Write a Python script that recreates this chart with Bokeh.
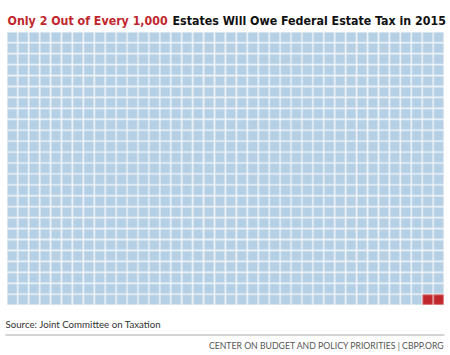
from bokeh.plotting import figure
from bokeh.models import ColumnDataSource, Range1d, Label, BoxAnnotation
from bokeh.embed import file_html
from bokeh.resources import INLINE

# ---- data ----
categories = ["Will not owe federal estate tax", "Will owe federal estate tax"]
counts = [998, 2]
colors = ["#b5cfe4", "#c0272d"]
edge_colors = ["#d6e4ef", "#d9777a"]
n_cols = 40
n_rows = 25

title_red = "Only 2 Out of Every 1,000"
title_black = "Estates Will Owe Federal Estate Tax in 2015"
source_note = "Source: Joint Committee on Taxation"
footer = "CENTER ON BUDGET AND POLICY PRIORITIES | CBPP.ORG"

# ---- build waffle cells from counts ----
xs, ys, fills, lines, cats = [], [], [], [], []
i = 0
for cat, n, c, ec in zip(categories, counts, colors, edge_colors):
    for _ in range(n):
        xs.append(i % n_cols)
        ys.append(i // n_cols)
        fills.append(c)
        lines.append(ec)
        cats.append(cat)
        i += 1
src = ColumnDataSource(dict(x=xs, y=ys, fill=fills, line=lines, cat=cats))

W, H = 450, 355
pitch = 10.93       # px per cell
left_px = 7.0
top_px = 32.0
sq = 9.6 / pitch

x0 = -(left_px + sq * pitch / 2) / pitch
y0 = -(top_px + sq * pitch / 2) / pitch

p = figure(width=W, height=H, output_backend="svg", toolbar_location=None,
           x_range=Range1d(x0, x0 + W / pitch),
           y_range=Range1d(y0 + H / pitch, y0),
           min_border=0, min_border_left=0, min_border_right=0,
           min_border_top=0, min_border_bottom=0)
p.axis.visible = False
p.grid.visible = False
p.outline_line_color = None
p.background_fill_color = "white"
p.border_fill_color = "white"

p.rect(x="x", y="y", width=sq, height=sq, source=src,
       fill_color="fill", line_color="line", line_width=1)

TF = "'DejaVu Sans Condensed', 'DejaVu Sans', sans-serif"
# title (two colours)
p.add_layout(Label(x=7, y=H - 20, x_units="screen", y_units="screen",
                   text=title_red, text_font=TF,
                   text_font_style="bold", text_font_size="12.3px",
                   text_color="#c0272d", text_baseline="alphabetic"))
p.add_layout(Label(x=172, y=H - 20, x_units="screen", y_units="screen",
                   text=title_black, text_font=TF,
                   text_font_style="bold", text_font_size="12.3px",
                   text_color="#111111", text_baseline="alphabetic"))

# source
p.add_layout(Label(x=5, y=H - 323, x_units="screen", y_units="screen",
                   text=source_note, text_font="Lato", text_font_size="9.7px",
                   text_color="#333333", text_baseline="middle"))

# divider line
p.add_layout(BoxAnnotation(left=5, right=444, top=H - 334, bottom=H - 335,
                           left_units="screen", right_units="screen",
                           top_units="screen", bottom_units="screen",
                           fill_color="#aaaaaa", fill_alpha=1, line_color=None))

# footer
p.add_layout(Label(x=444, y=H - 344.5, x_units="screen", y_units="screen",
                   text=footer, text_font="Lato", text_font_size="8.7px",
                   text_color="#555555", text_baseline="middle",
                   text_align="right"))

open("out.html", "w").write(file_html(p, INLINE))
